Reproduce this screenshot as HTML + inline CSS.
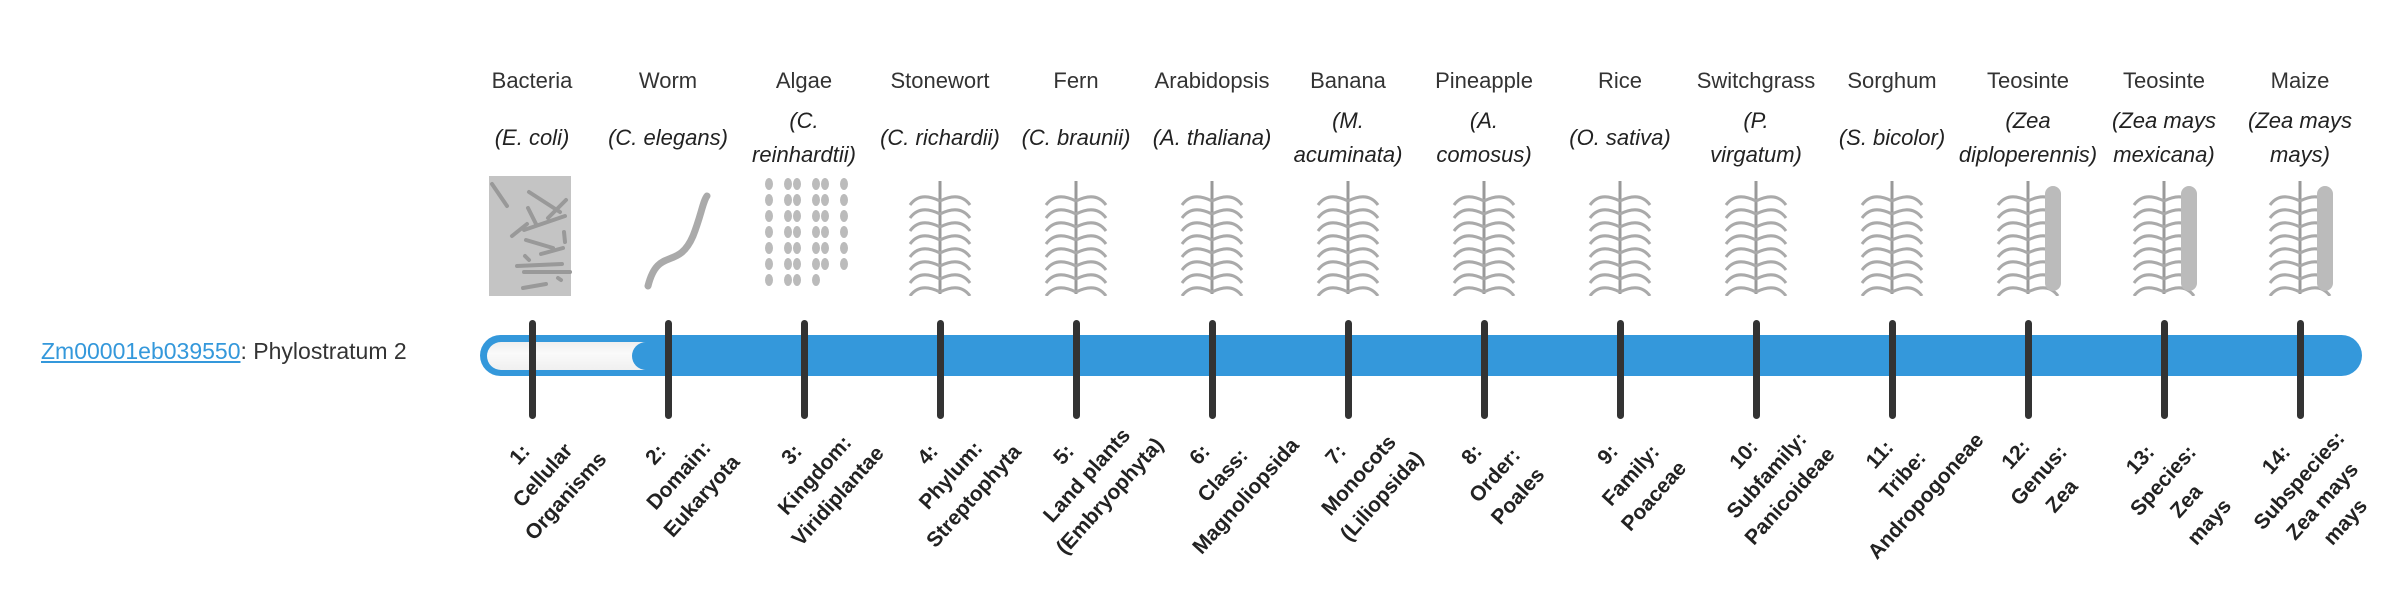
<!DOCTYPE html>
<html><head><meta charset="utf-8"><style>
body{margin:0;width:2400px;height:580px;background:#fff;position:relative;overflow:hidden;font-family:"Liberation Sans",sans-serif;color:#333}
.a{position:absolute}
.cn{position:absolute;top:68px;width:136px;margin-left:-68px;text-align:center;font-size:22px;color:#333}
.sn{position:absolute;top:104px;width:136px;margin-left:-68px;height:68px;display:flex;align-items:center;justify-content:center;text-align:center;font-size:22px;font-style:italic;line-height:34px;color:#222}
.tk{position:absolute;top:320px;width:7px;height:99px;margin-left:-3.5px;background:#333;border-radius:4px}
.lb{position:absolute;top:484px;width:170px;margin-left:-74px;margin-top:-55px;text-align:center;font-weight:bold;font-size:21px;line-height:31px;color:#222;transform:rotate(-48deg)}
.im{position:absolute;top:176px;width:90px;margin-left:-45px;height:120px}
</style></head><body>
<div class="a" style="left:41px;top:338px;font-size:23px"><span style="color:#3498db;text-decoration:underline">Zm00001eb039550</span>: Phylostratum 2</div>
<div class="a" style="left:480px;top:335px;width:1882px;height:41px;background:#3498db;border-radius:21px"></div>
<div class="a" style="left:487px;top:342px;width:170px;height:28px;background:linear-gradient(#eee,#fafafa 40%,#f0f0f0);border-radius:14px"></div>
<div class="a" style="left:632px;top:342px;width:40px;height:28px;background:#3498db;border-radius:14px 0 0 14px"></div>
<div id="c"></div>
<script>
var cn=["Bacteria","Worm","Algae","Stonewort","Fern","Arabidopsis","Banana","Pineapple","Rice","Switchgrass","Sorghum","Teosinte","Teosinte","Maize"];
var sn=["E. coli","C. elegans","C. reinhardtii","C. richardii","C. braunii","A. thaliana","M. acuminata","A. comosus","O. sativa","P. virgatum","S. bicolor","Zea diploperennis","Zea mays mexicana","Zea mays mays"];
var sw=[0,0,1,0,0,0,1,1,0,1,0,1,1,1];
var lb=["1:<br>Cellular<br>Organisms","2:<br>Domain:<br>Eukaryota","3:<br>Kingdom:<br>Viridiplantae","4:<br>Phylum:<br>Streptophyta","5:<br>Land plants<br>(Embryophyta)","6:<br>Class:<br>Magnoliopsida","7:<br>Monocots<br>(Liliopsida)","8:<br>Order:<br>Poales","9:<br>Family:<br>Poaceae","10:<br>Subfamily:<br>Panicoideae","11:<br>Tribe:<br>Andropogoneae","12:<br>Genus:<br>Zea","13:<br>Species:<br>Zea<br>mays","14:<br>Subspecies:<br>Zea mays<br>mays"];
var h="";
for(var i=0;i<14;i++){
 var x=532+136*i;
 h+='<div class="cn" style="left:'+x+'px">'+cn[i]+'</div>';
 var s=sn[i];
 if(sw[i]){var p=s.lastIndexOf(" ");if(i==11||i==3)p=s.indexOf(" ");s=s.slice(0,p)+"<br>"+s.slice(p+1);}
 h+='<div class="sn" style="left:'+x+'px">('+s+')</div>';
 h+='<div class="tk" style="left:'+x+'px"></div>';
 h+='<div class="lb" style="left:'+x+'px">'+lb[i]+'</div>';
 var g;
 if(i==0){g='<rect x="2" y="0" width="82" height="120" fill="#c4c4c4"/>';for(var k=0;k<14;k++){g+='<line x1="'+(5+(k*37)%75)+'" y1="'+(8+k*8)+'" x2="'+(20+(k*53)%65)+'" y2="'+(30+k*6)+'" stroke="#999" stroke-width="4" stroke-linecap="round"/>';}}
 else if(i==1){g='<path d="M25 110 C35 70 55 95 70 60 C78 40 80 25 84 20" stroke="#aaa" stroke-width="7" fill="none" stroke-linecap="round"/>';}
 else if(i==2){g='';for(var k=0;k<40;k++){g+='<ellipse cx="'+(10+(k%6)*14+(k%2)*5)+'" cy="'+(8+Math.floor(k/6)*16)+'" rx="4" ry="6" fill="#bbb"/>';}}
 else {g='<line x1="45" y1="5" x2="45" y2="118" stroke="#999" stroke-width="3"/>';for(var k=0;k<8;k++){var y=15+k*13;g+='<path d="M45 '+(y+10)+' Q25 '+y+' 15 '+(y+14)+' M45 '+(y+10)+' Q65 '+y+' 75 '+(y+14)+'" stroke="#aaa" stroke-width="3" fill="none"/>';}
  if(i>=11){g+='<rect x="62" y="10" width="16" height="105" rx="8" fill="#bbb"/>';}}
 h+='<svg class="im" style="left:'+x+'px" viewBox="0 0 90 120">'+g+'</svg>';
}
document.getElementById("c").innerHTML=h;
</script>
</body></html>
